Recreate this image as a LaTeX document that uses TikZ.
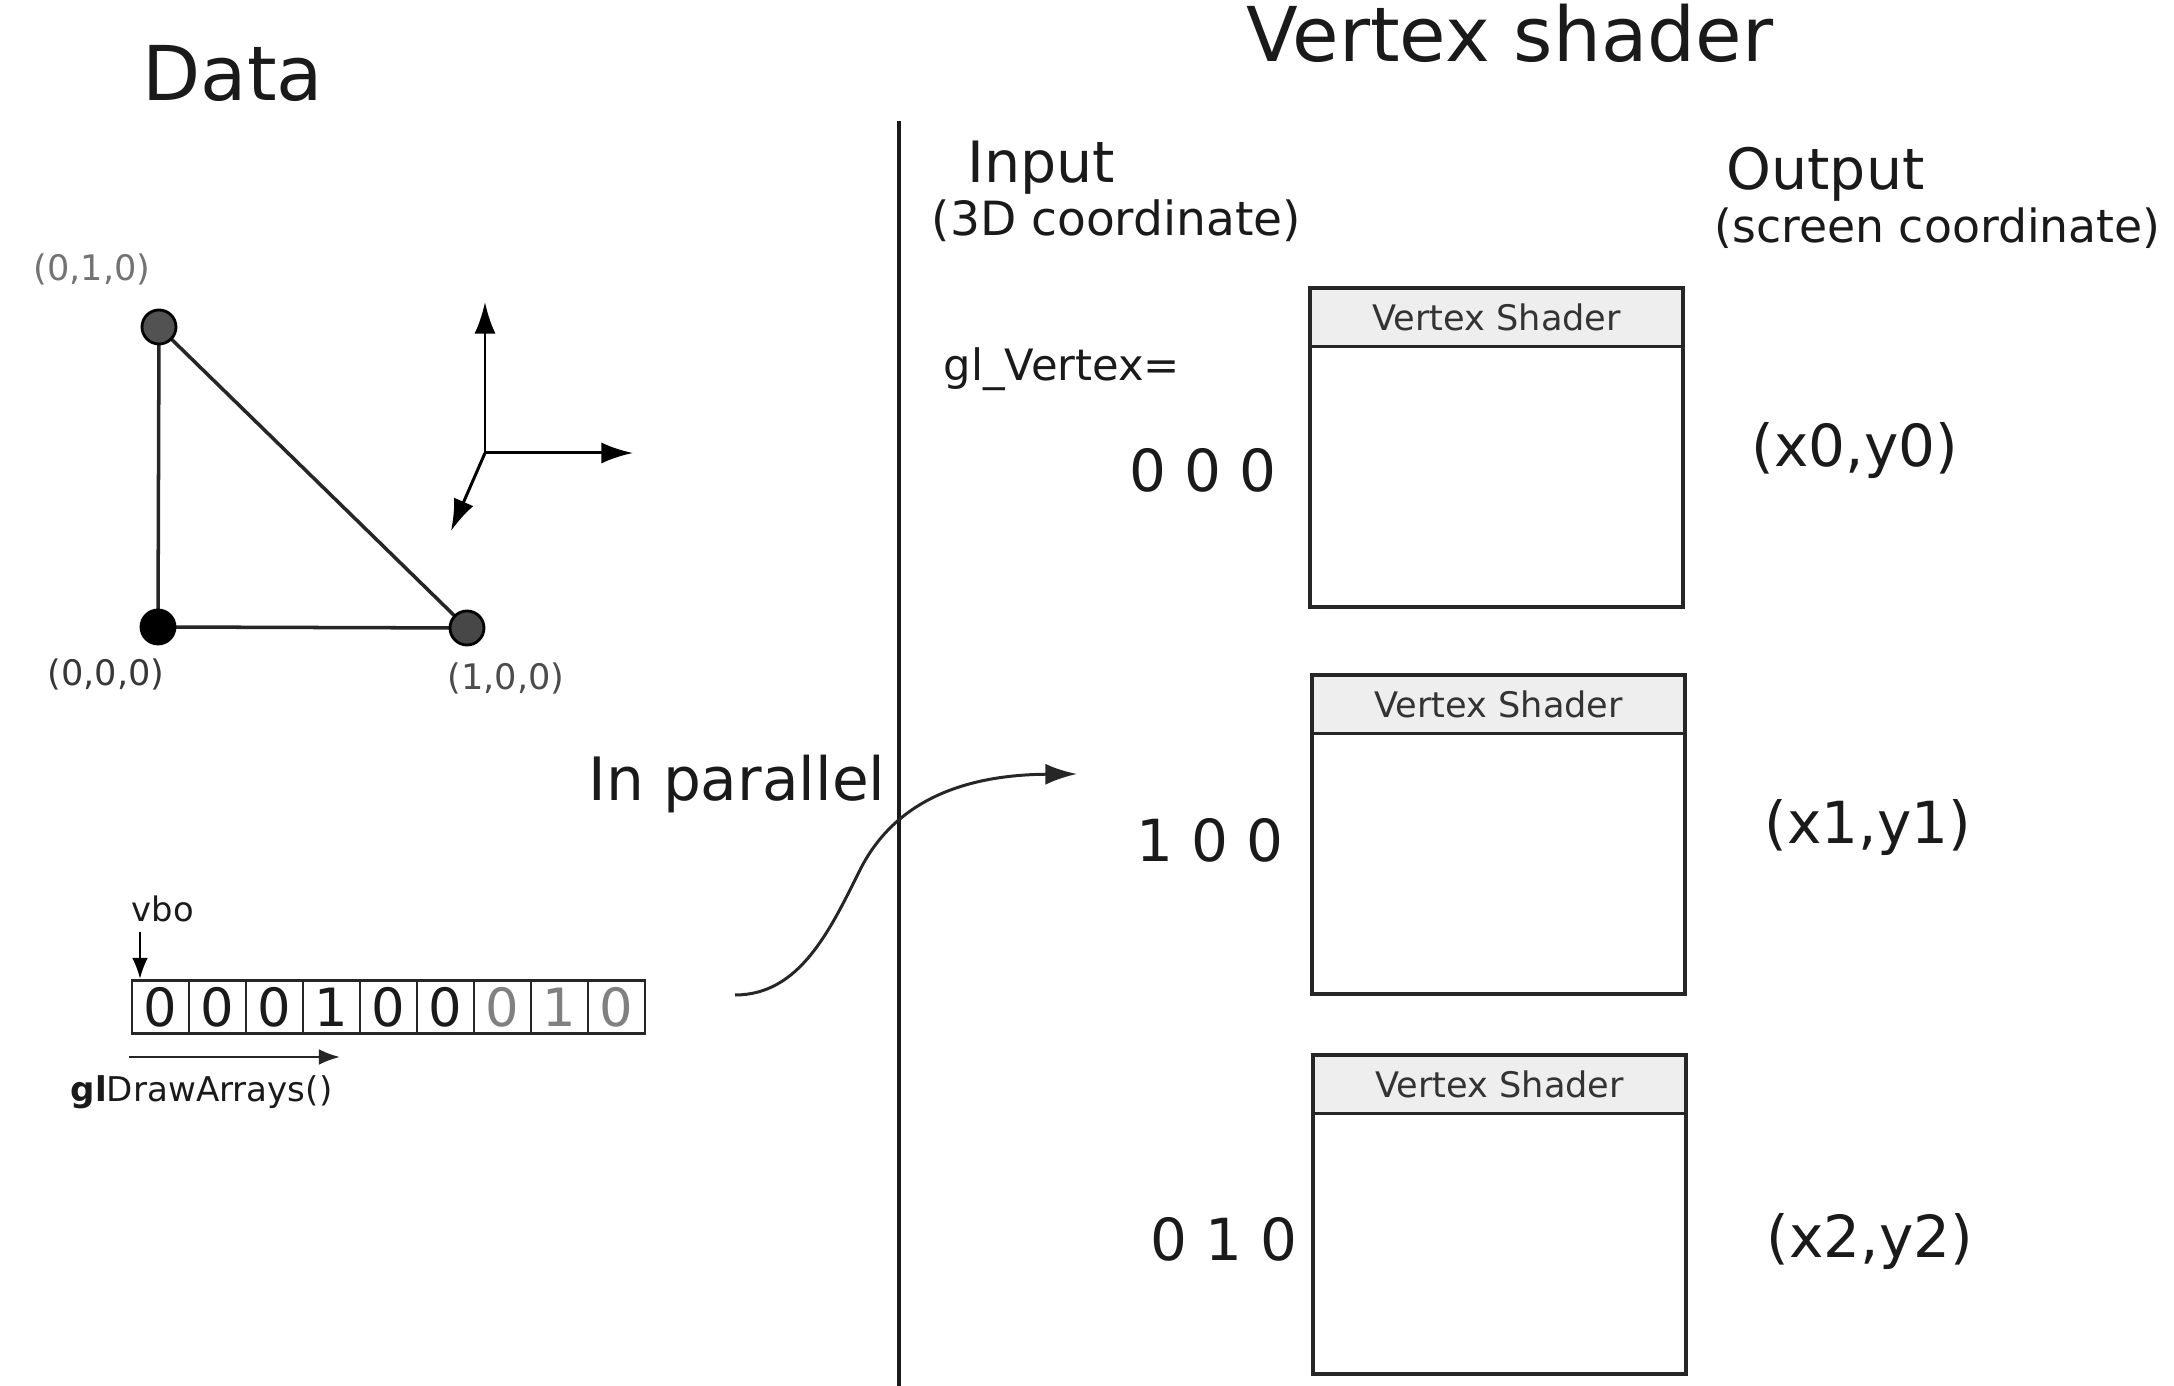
\documentclass[tikz,border=0pt]{standalone}
\usepackage{fontspec}
\setmainfont{DejaVu Sans}
\usetikzlibrary{arrows.meta}
\newcommand\fsz[1]{\fontsize{#1pt}{#1pt}\selectfont}
\definecolor{ink}{HTML}{1A1A1A}
\definecolor{hdrfill}{HTML}{EEEEEE}
\begin{document}
\begin{tikzpicture}[x=0.01cm,y=-0.01cm,
  txt/.style={inner sep=0pt,text=ink},
  title/.style={txt,font=\fsz{21.5}},
  colhead/.style={txt,font=\fsz{16.2}},
  coordval/.style={txt,font=\fsz{16.5}},
  smalllbl/.style={txt,font=\fsz{10}},
  vdot/.style={circle,draw=black,line width=0.8pt,inner sep=0pt,minimum size=0.34cm},
  edge/.style={draw=black!85,line width=1pt},
  bigtip/.style={-{Latex[length=9pt,width=6pt]},line width=0.85pt},
  smalltip/.style={-{Latex[length=6pt,width=4.5pt]},line width=0.7pt},
  cell/.style={draw=black!85,line width=0.6pt,minimum width=0.57cm,minimum height=0.53cm,inner sep=0pt,font=\fsz{15}},
  shhead/.style={draw=black!85,fill=hdrfill,line width=1.1pt,outer sep=0pt,minimum width=3.73cm,minimum height=0.585cm,inner sep=0pt,anchor=north west,font=\fsz{10},text=black!80},
  shbody/.style={draw=black!85,fill=white,line width=1.1pt,outer sep=0pt,minimum width=3.73cm,minimum height=2.6cm,inner sep=0pt,anchor=north}
]
\useasboundingbox (0,0) rectangle (2174,1386);

% ---------- left half: the data ----------
\node[title,anchor=base] (datatitle) at (233,101) {Data};

% triangle with its three vertices
\coordinate (p010) at (159,327);
\coordinate (p000) at (158,627);
\coordinate (p100) at (467,628);
\draw[edge] (p010) -- (p000) -- (p100) -- cycle;
\node[vdot,fill=black!68] (v010) at (p010) {};
\node[vdot,fill=black] (v000) at (p000) {};
\node[vdot,fill=black!72] (v100) at (p100) {};
\node[smalllbl,text=black!55,anchor=base] (l010) at (92,281) {(0,1,0)};
\node[smalllbl,text=black!78,anchor=base] (l000) at (106,686) {(0,0,0)};
\node[smalllbl,text=black!70,anchor=base] (l100) at (506,690) {(1,0,0)};

% coordinate axes
\coordinate (ax0) at (485,453);
\coordinate (axy) at (485,302);
\coordinate (axx) at (633,453);
\coordinate (axz) at (451,531);
\draw[bigtip] (ax0) -- (axy);
\draw[bigtip] (ax0) -- (axx);
\draw[bigtip] (ax0) -- (axz);

% vertex buffer contents
\foreach \v [count=\i] in {0,0,0,1,0,0,0,1,0} {
  \ifnum\i>6
    \node[cell,text=black!50] (c\i) at ({132+(\i-0.5)*57},1007) {\v};
  \else
    \node[cell,text=ink] (c\i) at ({132+(\i-0.5)*57},1007) {\v};
  \fi
}
\node[txt,font=\fsz{9.6},anchor=base] (vbo) at (163,922) {vbo};
\coordinate (vbofrom) at (140,932);
\coordinate (vboto) at (140,979);
\draw[smalltip] (vbofrom) -- (vboto);
\coordinate (drawfrom) at (129,1057);
\coordinate (drawto) at (340,1057);
\draw[smalltip,draw=black!85] (drawfrom) -- (drawto);
\node[txt,font=\fsz{9.7},anchor=base east] (drawlbl) at (333,1102) {\textbf{gl}DrawArrays()};

% ---------- divider and parallel dispatch ----------
\coordinate (divtop) at (899,121);
\coordinate (divbot) at (899,1386);
\draw[line width=1.15pt,draw=ink] (divtop) -- (divbot);
\node[txt,font=\fsz{17},anchor=base] (parallel) at (737,801) {In parallel};
\coordinate (flowstart) at (735,995);
\coordinate (flowmid) at (860,870);
\coordinate (flowend) at (1077,774);
\draw[bigtip,draw=black!85] (flowstart) .. controls (800,995) and (830,930) .. (flowmid)
  .. controls (890,810) and (950,775) .. (flowend);

% ---------- right half: the vertex shader ----------
\node[title,anchor=base] (vstitle) at (1510,62) {Vertex shader};
\node[colhead,anchor=base west] (inhead) at (967,183) {Input};
\node[txt,font=\fsz{13.4},anchor=base west] (insub) at (931,236) {(3D coordinate)};
\node[colhead,anchor=base west] (outhead) at (1726,190) {Output};
\node[txt,font=\fsz{13},anchor=base west] (outsub) at (1714,243) {(screen coordinate)};
\node[txt,font=\fsz{12.3},anchor=base west] (glv) at (943,381) {gl\_Vertex=};

% three shader instances
\node[shhead] (h1) at (1310,288) {Vertex Shader};
\node[shbody] (b1) at (h1.south) {};
\node[shhead] (h2) at (1312,675) {Vertex Shader};
\node[shbody] (b2) at (h2.south) {};
\node[shhead] (h3) at (1313,1055) {Vertex Shader};
\node[shbody] (b3) at (h3.south) {};

% inputs
\node[coordval,anchor=base] (in1) at (1203,492) {0 0 0};
\node[coordval,anchor=base] (in2) at (1210,862) {1 0 0};
\node[coordval,anchor=base] (in3) at (1224,1261) {0 1 0};

% outputs
\node[coordval,anchor=base] (out1) at (1855,467) {(x0,y0)};
\node[coordval,anchor=base] (out2) at (1868,844) {(x1,y1)};
\node[coordval,anchor=base] (out3) at (1870,1258) {(x2,y2)};
\end{tikzpicture}
\end{document}
